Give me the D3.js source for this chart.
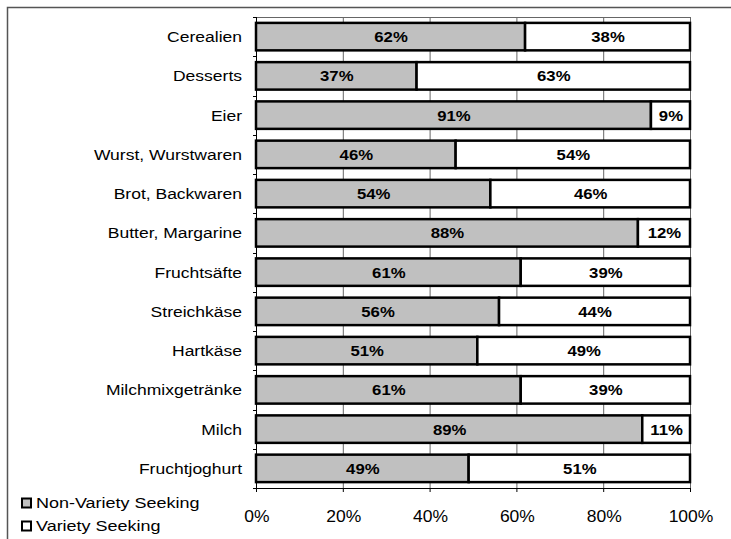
<!DOCTYPE html>
<html>
<head>
<meta charset="utf-8">
<script src="https://cdn.jsdelivr.net/npm/d3@7"></script>
<style>
  html, body { margin: 0; padding: 0; background: #fff; }
  svg { display: block; font-family: "Liberation Sans", Arial, sans-serif; }
</style>
</head>
<body>
<svg id="chart" width="731" height="539"></svg>
<script>
const categories = ["Cerealien", "Desserts", "Eier", "Wurst, Wurstwaren", "Brot, Backwaren",
  "Butter, Margarine", "Fruchtsäfte", "Streichkäse", "Hartkäse", "Milchmixgetränke",
  "Milch", "Fruchtjoghurt"];
const nonVariety = [62, 37, 91, 46, 54, 88, 61, 56, 51, 61, 89, 49];
const variety    = [38, 63, 9, 54, 46, 12, 39, 44, 49, 39, 11, 51];
const seriesNames = ["Non-Variety Seeking", "Variety Seeking"];
const seriesColors = ["#c0c0c0", "#ffffff"];
const xTicks = [0, 20, 40, 60, 80, 100];

(function () {
const svg = d3.select("#chart");
const pLeft = 256, pRight = 690, pTop = 17, pBottom = 488;
const place = (px, py, sx) => `translate(${px},${py}) scale(${sx},1)`;

// outer frame
svg.append("rect").attr("x", 7.5).attr("y", 7.5).attr("width", 740).attr("height", 560)
  .attr("fill", "none").attr("stroke", "#555").attr("stroke-width", 1.5);

const x = d3.scaleLinear().domain([0, 100]).range([pLeft, pRight]);
const y = d3.scaleBand().domain(categories).range([pTop, pBottom]).paddingInner(0.3).paddingOuter(0.15);

// gridlines
svg.append("g").selectAll("line").data(xTicks.slice(1)).join("line")
  .attr("x1", d => x(d) + 0.5).attr("x2", d => x(d) + 0.5)
  .attr("y1", pTop).attr("y2", pBottom)
  .attr("stroke", "#666").attr("stroke-width", 1);
// plot top border
svg.append("line").attr("x1", pLeft).attr("x2", pRight + 1).attr("y1", pTop + 0.5).attr("y2", pTop + 0.5)
  .attr("stroke", "#666").attr("stroke-width", 1);

// stacked bars
const rows = categories.map((c, i) => ({ c, v: [nonVariety[i], variety[i]] }));
const segs = [];
rows.forEach(r => {
  let acc = 0;
  r.v.forEach((v, k) => { segs.push({ c: r.c, x0: acc, x1: acc + v, v, k }); acc += v; });
});
svg.append("g").selectAll("rect").data(segs).join("rect")
  .attr("x", d => x(d.x0)).attr("width", d => x(d.x1) - x(d.x0))
  .attr("y", d => y(d.c)).attr("height", y.bandwidth())
  .attr("fill", d => seriesColors[d.k]).attr("stroke", "#000").attr("stroke-width", 2.5);

svg.append("g").selectAll("text").data(segs).join("text")
  .attr("transform", d => place((x(d.x0) + x(d.x1)) / 2 + 0.5, y(d.c) + y.bandwidth() / 2 + 5.6, 1.08))
  .attr("text-anchor", "middle")
  .attr("font-size", "15.5px").attr("font-weight", "bold")
  .text(d => d.v + "%");

// y axis
const yAxis = svg.append("g");
yAxis.append("line").attr("x1", pLeft + 0.5).attr("x2", pLeft + 0.5).attr("y1", pTop).attr("y2", pBottom + 4)
  .attr("stroke", "#000");
const boundaries = categories.map(c => y(c) - y.step() * y.paddingInner() / 2);
boundaries.push(pBottom);
yAxis.selectAll("line.tk").data(boundaries).join("line").attr("class", "tk")
  .attr("x1", pLeft - 3).attr("x2", pLeft).attr("y1", d => Math.round(d) + 0.5).attr("y2", d => Math.round(d) + 0.5)
  .attr("stroke", "#000");
yAxis.selectAll("text").data(categories).join("text")
  .attr("transform", d => place(242, y(d) + y.bandwidth() / 2 + 5.6, 1.13))
  .attr("text-anchor", "end").attr("font-size", "15.5px").text(d => d);

// x axis
const xAxis = svg.append("g");
xAxis.append("line").attr("x1", pLeft).attr("x2", pRight + 1).attr("y1", pBottom + 0.5).attr("y2", pBottom + 0.5)
  .attr("stroke", "#000");
xAxis.selectAll("line.tk").data(xTicks).join("line").attr("class", "tk")
  .attr("x1", d => x(d) + 0.5).attr("x2", d => x(d) + 0.5).attr("y1", pBottom).attr("y2", pBottom + 4)
  .attr("stroke", "#000");
xAxis.selectAll("text").data(xTicks).join("text")
  .attr("transform", d => place(x(d) + 1, 522, 1.06))
  .attr("text-anchor", "middle")
  .attr("font-size", "16.5px").text(d => d + "%");

// legend
const lg = svg.append("g").selectAll("g").data(seriesNames).join("g")
  .attr("transform", (d, i) => `translate(0, ${508 + i * 23})`);
lg.append("rect").attr("x", 22).attr("y", -9.5).attr("width", 9).attr("height", 9)
  .attr("fill", (d, i) => seriesColors[i]).attr("stroke", "#000").attr("stroke-width", 2);
lg.append("text").attr("transform", place(36, 0, 1.16)).attr("font-size", "15.5px").text(d => d);
})();
</script>
</body>
</html>
